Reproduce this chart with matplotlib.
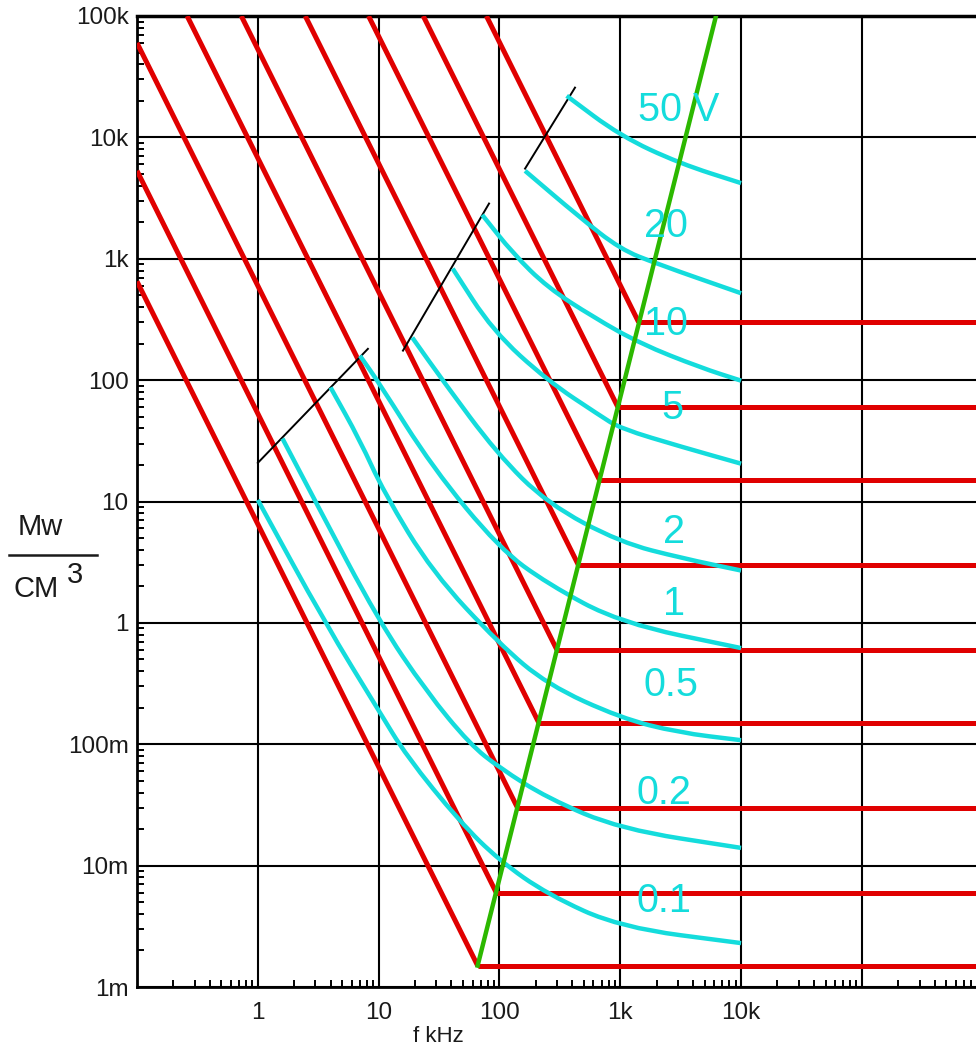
import numpy as np
import matplotlib.pyplot as plt
from matplotlib.lines import Line2D
from matplotlib.path import Path
from matplotlib.patches import PathPatch
from matplotlib.ticker import LogLocator, NullFormatter

plt.rcParams['font.family'] = ['Liberation Sans', 'DejaVu Sans']

# power-density levels of the flat red lines (Mw/cm3) and where they meet the green line (kHz)
levels = [1.5e-3, 6e-3, 3e-2, 0.15, 0.6, 3, 15, 60, 300]
corner_f = [66, 94, 141, 212, 299, 450, 674, 955, 1420]
# start of each sloped red line (left or top edge)
red_f0 = [0.1, 0.1, 0.1, 0.26, 0.73, 2.47, 8.25, 23.4, 78]
red_p0 = [650, 5300, 60000, 1e5, 1e5, 1e5, 1e5, 1e5, 1e5]
f_max = 8.8e5

green_f = [66, 6200]
green_p = [1.5e-3, 1e5]

# thin black boundary segments
seg1_f, seg1_p = [1, 8.15], [20.8, 181]
seg2_f, seg2_p = [15.9, 82], [175, 2850]
seg3_f, seg3_p = [163, 422], [5530, 25700]

# cyan curves, one per voltage
c01_f = [1, 3.6, 10, 17, 47, 100, 250, 1000, 10000]
c01_p = [10.3, 1.0, 0.19, 0.08, 0.023, 0.011, 0.0058, 0.0031, 0.0023]
c02_f = [1.6, 3.0, 10, 25, 57, 100, 250, 1000, 10000]
c02_p = [33, 10, 1.04, 0.27, 0.1, 0.064, 0.036, 0.02, 0.014]
c05_f = [4.0, 7.0, 11, 28, 100, 250, 1000, 3000, 10000]
c05_p = [87, 32, 12, 2.6, 0.67, 0.31, 0.165, 0.125, 0.108]
c1_f = [7, 10, 28, 100, 250, 1000, 10000]
c1_p = [159, 96, 19, 4.1, 2.1, 1.0, 0.62]
c2_f = [19, 34, 95, 250, 1000, 3300, 10000]
c2_p = [224, 99, 25, 9.6, 4.6, 3.4, 2.7]
c5_f = [41, 88, 250, 680, 1000, 3300, 10000]
c5_p = [830, 255, 99, 51, 40, 28, 20.5]
c10_f = [72, 130, 250, 600, 1460, 4600, 10000]
c10_p = [2300, 1100, 580, 330, 200, 127, 99]
c20_f = [163, 460, 1000, 2000, 10000]
c20_p = [5300, 2200, 1200, 910, 520]
c50_f = [360, 1000, 3100, 10000]
c50_p = [22000, 10300, 6100, 4200]

volt_labels = ['50 V', '20', '10', '5', '2', '1', '0.5', '0.2', '0.1']

yticks = [1e-3, 1e-2, 1e-1, 1, 10, 100, 1e3, 1e4, 1e5]
ytick_labels = ['1m', '10m', '100m', '1', '10', '100', '1k', '10k', '100k']
xticks = [1, 10, 100, 1e3, 1e4, 1e5]
xtick_labels = ['1', '10', '100', '1k', '10k', '']

RED = '#e00000'
CYAN = '#14dcdc'
GREEN = '#2cb800'


def smooth_curve(fs, ps):
    # quadratic bezier through the read points (midpoints taken in log space)
    verts = [(fs[0], ps[0])]
    codes = [Path.MOVETO]
    n = len(fs)
    verts.append((np.sqrt(fs[0] * fs[1]), np.sqrt(ps[0] * ps[1])))
    codes.append(Path.LINETO)
    for i in range(1, n - 1):
        verts.append((fs[i], ps[i]))
        verts.append((np.sqrt(fs[i] * fs[i + 1]), np.sqrt(ps[i] * ps[i + 1])))
        codes += [Path.CURVE3, Path.CURVE3]
    verts.append((fs[-1], ps[-1]))
    codes.append(Path.LINETO)
    return Path(verts, codes)


def main():
    fig = plt.figure(figsize=(9.76, 10.48), dpi=100)
    ax = fig.add_axes([137 / 976, 61 / 1048, 1 - 137 / 976, 971 / 1048])
    ax.set_xscale('log')
    ax.set_yscale('log')
    ax.set_xlim(0.1, f_max)
    ax.set_ylim(1e-3, 1e5)

    ax.set_xticks(xticks, xtick_labels)
    ax.set_yticks(yticks, ytick_labels)
    ax.xaxis.set_minor_locator(LogLocator(base=10, subs=np.arange(2, 10)))
    ax.yaxis.set_minor_locator(LogLocator(base=10, subs=np.arange(2, 10)))
    ax.xaxis.set_minor_formatter(NullFormatter())
    ax.yaxis.set_minor_formatter(NullFormatter())
    ax.tick_params(which='major', length=0, labelsize=17.5, labelcolor='#1a1a1a')
    ax.tick_params(axis='x', which='major', pad=11)
    ax.tick_params(axis='y', which='major', pad=6)
    ax.tick_params(which='minor', direction='in', length=5, width=1.4, color='black')
    ax.grid(True, which='major', color='black', linewidth=1.5)
    ax.set_axisbelow(True)
    ax.spines['right'].set_visible(False)
    ax.spines['top'].set_linewidth(2.5)
    ax.spines['left'].set_linewidth(2)
    ax.spines['bottom'].set_linewidth(2)

    # red lines: sloped part then flat part
    for p, fc, f0, p0 in zip(levels, corner_f, red_f0, red_p0):
        ax.plot([f0, fc], [p0, p], color=RED, linewidth=3.6, solid_capstyle='butt', zorder=3)
        ax.plot([fc, f_max], [p, p], color=RED, linewidth=3.6, solid_capstyle='butt', zorder=3)

    for sf, sp in [(seg1_f, seg1_p), (seg2_f, seg2_p), (seg3_f, seg3_p)]:
        ax.plot(sf, sp, color='black', linewidth=1.4, zorder=3)

    curves = [(c50_f, c50_p), (c20_f, c20_p), (c10_f, c10_p), (c5_f, c5_p), (c2_f, c2_p),
              (c1_f, c1_p), (c05_f, c05_p), (c02_f, c02_p), (c01_f, c01_p)]
    for cf, cp in curves:
        patch = PathPatch(smooth_curve(cf, cp), facecolor='none', edgecolor=CYAN,
                          linewidth=3.2, capstyle='butt', joinstyle='round', zorder=4)
        ax.add_patch(patch)

    ax.plot(green_f, green_p, color=GREEN, linewidth=3.2, zorder=5)

    label_f = [3070, 2390, 2390, 2680, 2790, 2790, 2630, 2300, 2300]
    label_p = [16950, 1875, 292, 59, 5.6, 1.43, 0.308, 0.0397, 0.0051]
    for txt, lf, lp in zip(volt_labels, label_f, label_p):
        ax.text(lf, lp, txt, color=CYAN, fontsize=28.5, ha='center', va='center', zorder=6)

    # y axis unit as a fraction
    fig.text(40 / 976, 1 - 527 / 1048, 'Mw', fontsize=21, ha='center', va='center', color='#1a1a1a')
    fig.add_artist(Line2D([9 / 976, 97 / 976], [1 - 555 / 1048, 1 - 555 / 1048], color='#1a1a1a', linewidth=1.8))
    fig.text(36 / 976, 1 - 589 / 1048, 'CM', fontsize=21, ha='center', va='center', color='#1a1a1a')
    fig.text(75 / 976, 1 - 575 / 1048, '3', fontsize=21, ha='center', va='center', color='#1a1a1a')

    fig.text(438 / 976, 1 - 1037 / 1048, 'f kHz', fontsize=16, ha='center', va='center', color='#1a1a1a')

    fig.savefig('out.png', dpi=100)


if __name__ == '__main__':
    main()
